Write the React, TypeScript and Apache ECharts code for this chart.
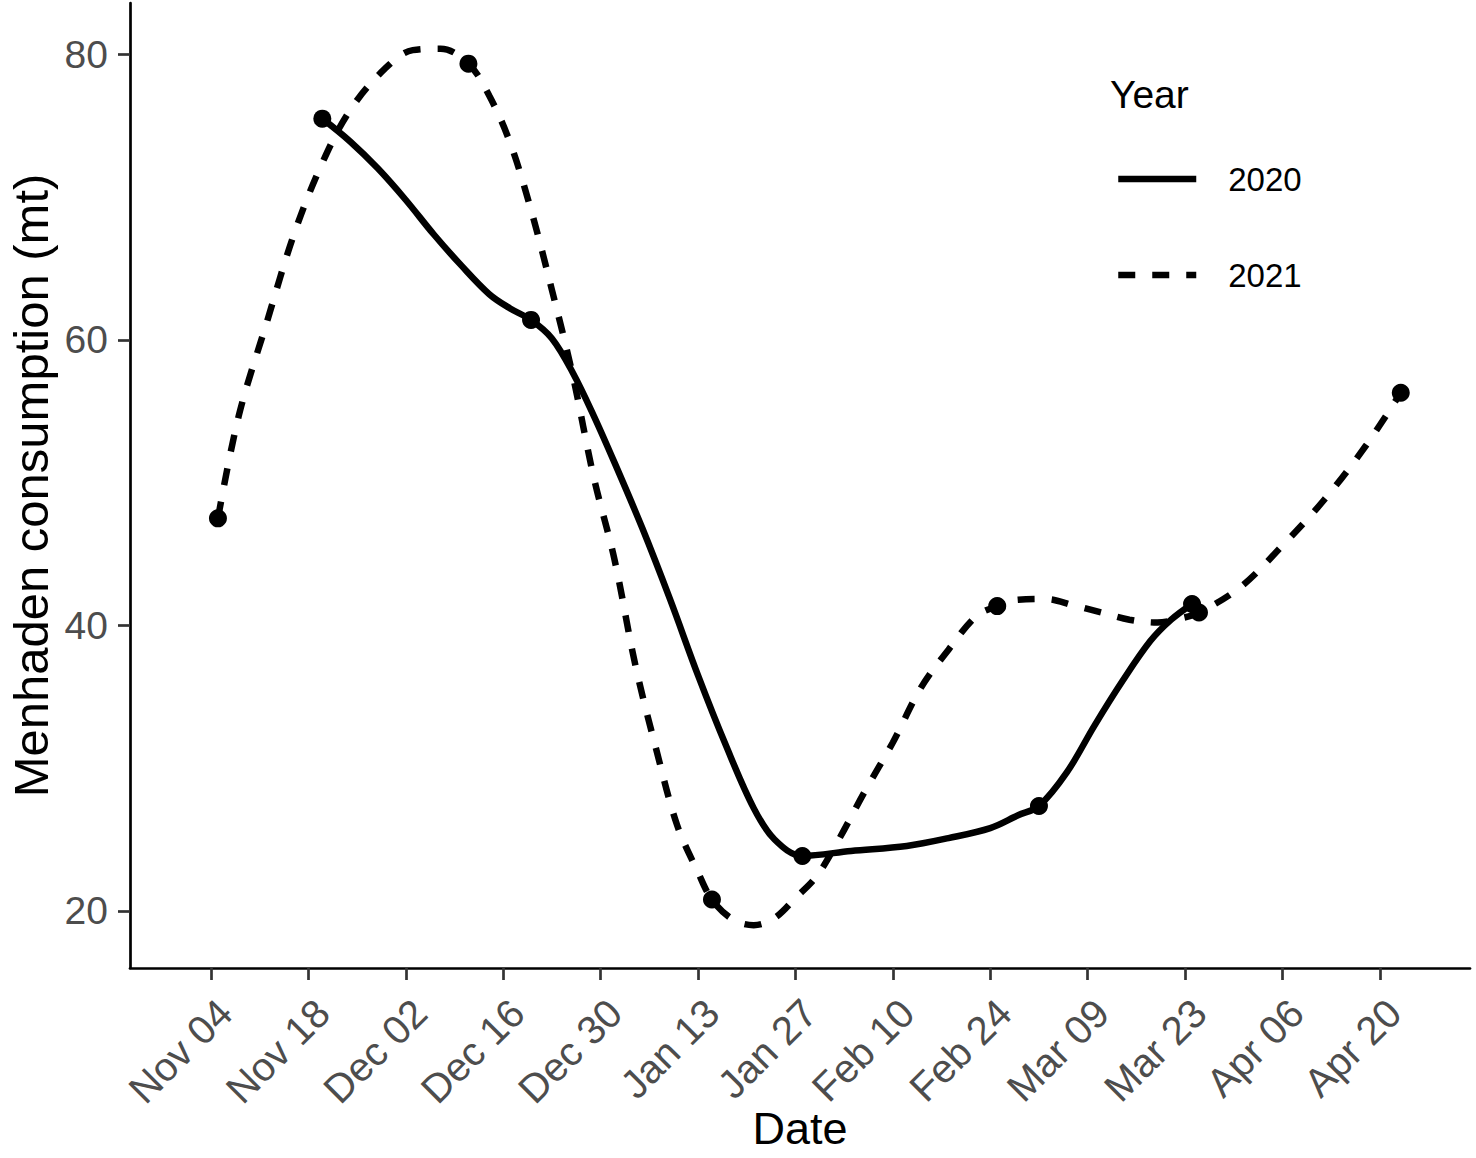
import React, { useEffect, useRef } from "react";
import * as echarts from "echarts";

// ---- data ----
const tickDates = [
  "2019-11-04", "2019-11-18", "2019-12-02", "2019-12-16", "2019-12-30",
  "2020-01-13", "2020-01-27", "2020-02-10", "2020-02-24", "2020-03-09",
  "2020-03-23", "2020-04-06", "2020-04-20",
];
const yTicks = [20, 40, 60, 80];

// observed points
const obs2020Dates = ["2019-11-20", "2019-12-20", "2020-01-28", "2020-03-02", "2020-03-24"];
const obs2020Values = [75.5, 61.4, 23.85, 27.35, 41.5];
const obs2021Dates = ["2019-11-05", "2019-12-11", "2020-01-15", "2020-02-25", "2020-03-25", "2020-04-23"];
const obs2021Values = [47.5, 79.35, 20.8, 41.35, 40.9, 56.3];

// smoothed curves
const curve2020Dates = [
  "2019-11-20", "2019-11-24", "2019-11-28", "2019-12-02", "2019-12-06", "2019-12-10",
  "2019-12-14", "2019-12-17", "2019-12-20", "2019-12-23", "2019-12-26", "2019-12-29",
  "2020-01-01", "2020-01-05", "2020-01-09", "2020-01-13", "2020-01-17", "2020-01-21",
  "2020-01-24", "2020-01-28", "2020-02-04", "2020-02-12", "2020-02-18", "2020-02-24",
  "2020-02-28", "2020-03-02", "2020-03-06", "2020-03-10", "2020-03-14", "2020-03-18",
  "2020-03-21", "2020-03-24",
];
const curve2020Values = [
  75.5, 73.9, 72.0, 69.8, 67.4, 65.2,
  63.2, 62.2, 61.4, 60.1, 57.7, 54.7,
  51.4, 46.8, 41.8, 36.5, 31.6, 27.2,
  25.0, 23.85, 24.2, 24.55, 25.1, 25.8,
  26.7, 27.35, 29.7, 33.0, 36.1, 38.9,
  40.4, 41.5,
];
const curve2021Dates = [
  "2019-11-05", "2019-11-08", "2019-11-12", "2019-11-16", "2019-11-20", "2019-11-24",
  "2019-11-29", "2019-12-03", "2019-12-07", "2019-12-11", "2019-12-14", "2019-12-17",
  "2019-12-20", "2019-12-23", "2019-12-26", "2019-12-29", "2020-01-01", "2020-01-04",
  "2020-01-07", "2020-01-10", "2020-01-13", "2020-01-15", "2020-01-18", "2020-01-21",
  "2020-01-24", "2020-01-27", "2020-01-30", "2020-02-02", "2020-02-06", "2020-02-10",
  "2020-02-14", "2020-02-18", "2020-02-22", "2020-02-25", "2020-02-28", "2020-03-03",
  "2020-03-07", "2020-03-11", "2020-03-15", "2020-03-19", "2020-03-22", "2020-03-25",
  "2020-03-31", "2020-04-06", "2020-04-12", "2020-04-18", "2020-04-23",
];
const curve2021Values = [
  47.5, 54.7, 61.2, 67.5, 72.4, 76.1,
  79.0, 80.3, 80.4, 79.35, 77.1, 73.8,
  69.1, 63.5, 57.5, 50.4, 44.6, 37.2,
  31.3, 26.0, 22.7, 20.8, 19.4, 19.0,
  19.5, 20.9, 22.4, 24.8, 28.4, 31.8,
  35.6, 38.3, 40.65, 41.35, 41.8, 41.85,
  41.4, 40.9, 40.4, 40.2, 40.45, 40.9,
  42.7, 45.6, 48.8, 52.6, 56.3,
];

const FONT = "'Liberation Sans', Arial, Helvetica, sans-serif";
const MONTHS = ["Jan", "Feb", "Mar", "Apr", "May", "Jun", "Jul", "Aug", "Sep", "Oct", "Nov", "Dec"];
const DAY = 86400000;
const ts = (s: string) => Date.parse(s + "T00:00:00Z");
const pairs = (d: string[], v: number[]) => d.map((s, i) => [ts(s), v[i]]);
const fmtDate = (val: number) => {
  const d = new Date(val);
  return MONTHS[d.getUTCMonth()] + " " + String(d.getUTCDate()).padStart(2, "0");
};

export default function App() {
  const ref = useRef<HTMLDivElement>(null);
  useEffect(() => {
    if (!ref.current) return;
    const chart = echarts.init(ref.current, undefined, { renderer: "svg" });
    const x0 = ts(tickDates[0]);
    const tickVals = tickDates.map(ts);
    const axisLineStyle = { color: "#000", width: 2.7 };
    chart.setOption({
      animation: false,
      backgroundColor: "#ffffff",
      textStyle: { fontFamily: FONT },
      grid: { left: 130, right: 6, top: 3, bottom: 190, containLabel: false, outerBoundsMode: "none" },
      xAxis: {
        type: "value",
        min: x0 - 11.64 * DAY,
        max: x0 + 180.95 * DAY,
        name: "Date",
        nameLocation: "middle",
        nameGap: 138,
        nameMoveOverlap: false,
        nameTextStyle: { fontSize: 45, color: "#000", fontFamily: FONT },
        axisLine: { show: true, onZero: false, lineStyle: axisLineStyle },
        axisTick: { show: true, length: 12, customValues: tickVals, lineStyle: { color: "#333", width: 2.7 } },
        axisLabel: {
          customValues: tickVals,
          rotate: 45,
          align: "right",
          verticalAlign: "top",
          fontSize: 40,
          color: "#4d4d4d",
          margin: 24,
          fontFamily: FONT,
          formatter: (v: number) => fmtDate(v),
        },
        splitLine: { show: false },
      },
      yAxis: {
        type: "value",
        min: 16,
        max: 83.6,
        name: "Menhaden consumption (mt)",
        nameLocation: "middle",
        nameGap: 75,
        nameMoveOverlap: false,
        nameTextStyle: { fontSize: 49, color: "#000", fontFamily: FONT },
        axisLine: { show: true, onZero: false, lineStyle: axisLineStyle },
        axisTick: { show: true, length: 12, customValues: yTicks, lineStyle: { color: "#333", width: 2.7 } },
        axisLabel: { customValues: yTicks, fontSize: 39, color: "#4d4d4d", margin: 22, fontFamily: FONT },
        splitLine: { show: false },
      },
      legend: {
        orient: "vertical",
        left: 1115,
        top: 159,
        padding: 0,
        itemWidth: 78,
        itemHeight: 14,
        itemGap: 56,
        selectedMode: false,
        data: ["2020", "2021"],
        itemStyle: { opacity: 0 },
        lineStyle: { width: 6.5 },
        textStyle: { fontSize: 33, color: "#000", fontFamily: FONT, padding: [0, 0, 0, 27], lineHeight: 40 },
      },
      graphic: [
        {
          type: "text",
          x: 1110,
          y: 94.5,
          style: { text: "Year", fontSize: 39, fontFamily: FONT, fill: "#000", align: "left", verticalAlign: "middle" },
        },
      ],
      series: [
        {
          type: "line",
          name: "2020",
          data: pairs(curve2020Dates, curve2020Values),
          smooth: 0.35,
          symbol: "none",
          showSymbol: false,
          lineStyle: { color: "#000", width: 6.5, type: "solid", join: "round" },
          itemStyle: { color: "#000" },
          silent: true,
          z: 2,
        },
        {
          type: "line",
          name: "2021",
          data: pairs(curve2021Dates, curve2021Values),
          smooth: 0.35,
          symbol: "none",
          showSymbol: false,
          lineStyle: { color: "#000", width: 6.5, type: [17, 17], cap: "butt" },
          itemStyle: { color: "#000" },
          silent: true,
          z: 2,
        },
        {
          type: "scatter",
          name: "obs2020",
          data: pairs(obs2020Dates, obs2020Values),
          symbol: "circle",
          symbolSize: 18,
          itemStyle: { color: "#000", opacity: 1 },
          z: 3,
        },
        {
          type: "scatter",
          name: "obs2021",
          data: pairs(obs2021Dates, obs2021Values),
          symbol: "circle",
          symbolSize: 18,
          itemStyle: { color: "#000", opacity: 1 },
          z: 3,
        },
      ],
    });
    return () => chart.dispose();
  }, []);
  return (
    <div
      ref={ref}
      style={{ position: "absolute", left: 0, top: 0, width: 1476, height: 1158, background: "#fff" }}
    />
  );
}
